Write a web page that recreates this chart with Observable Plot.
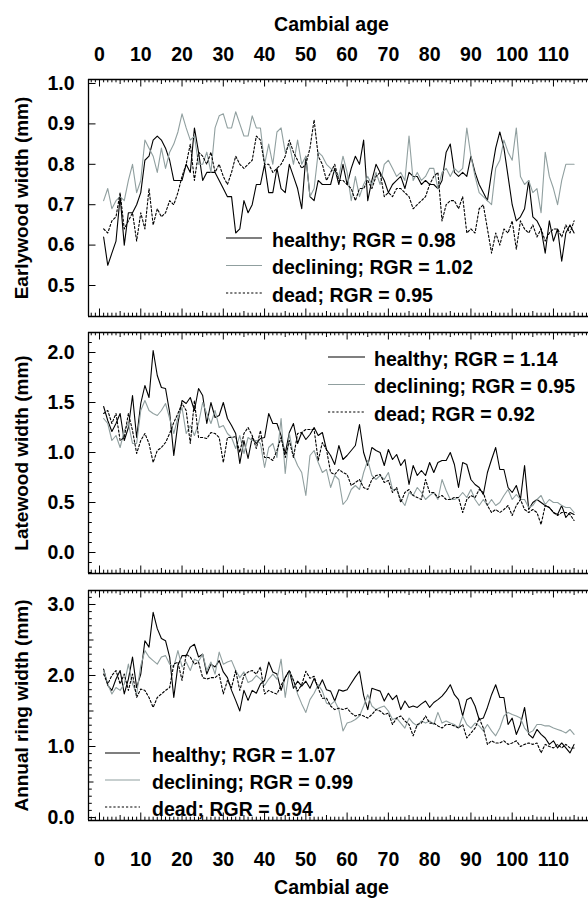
<!DOCTYPE html>
<html><head><meta charset="utf-8">
<script src="https://cdn.jsdelivr.net/npm/d3@7"></script>
<script src="https://cdn.jsdelivr.net/npm/@observablehq/plot@0.6"></script>
<style>
body{margin:0;background:#fff;}
#chart{width:588px;height:898px;overflow:hidden;background:#fff;}
#chart svg{display:block;}
</style></head><body><div id="chart"></div>
<script>
// ---------- data ----------
const ages = d3.range(1, 116); // cambial age 1..115
const xTickLabels = [0, 10, 20, 30, 40, 50, 60, 70, 80, 90, 100, 110];
const groups = ["healthy", "declining", "dead"];

const ewHealthy = [0.62,0.55,0.58,0.61,0.72,0.60,0.68,0.68,0.70,0.73,
 0.81,0.82,0.86,0.87,0.86,0.84,0.81,0.76,0.76,0.76,
 0.80,0.78,0.89,0.83,0.76,0.78,0.78,0.78,0.76,0.74,
 0.72,0.72,0.63,0.64,0.71,0.68,0.70,0.75,0.75,0.80,
 0.73,0.73,0.79,0.74,0.73,0.80,0.77,0.74,0.69,0.82,
 0.72,0.71,0.76,0.75,0.75,0.75,0.79,0.75,0.80,0.75,
 0.79,0.82,0.80,0.86,0.71,0.76,0.80,0.78,0.76,0.73,
 0.75,0.76,0.77,0.74,0.78,0.77,0.77,0.75,0.76,0.75,
 0.75,0.74,0.76,0.83,0.85,0.78,0.77,0.78,0.77,0.82,
 0.78,0.75,0.73,0.71,0.78,0.84,0.88,0.84,0.77,0.70,
 0.66,0.67,0.69,0.76,0.67,0.66,0.64,0.58,0.66,0.61,
 0.64,0.56,0.63,0.65,0.63];
const ewDeclining = [0.71,0.74,0.69,0.71,0.72,0.71,0.76,0.80,0.73,0.76,
 0.86,0.84,0.82,0.78,0.84,0.79,0.83,0.85,0.88,0.925,
 0.89,0.86,0.87,0.80,0.80,0.83,0.78,0.89,0.92,0.925,
 0.89,0.89,0.93,0.90,0.87,0.87,0.92,0.89,0.89,0.80,
 0.85,0.80,0.88,0.89,0.83,0.85,0.80,0.86,0.80,0.82,
 0.72,0.74,0.83,0.82,0.80,0.79,0.78,0.77,0.82,0.78,
 0.71,0.77,0.72,0.75,0.77,0.75,0.78,0.75,0.80,0.81,
 0.79,0.77,0.78,0.76,0.87,0.76,0.78,0.76,0.77,0.79,
 0.79,0.74,0.78,0.79,0.77,0.79,0.78,0.79,0.89,0.82,
 0.77,0.73,0.72,0.71,0.70,0.79,0.81,0.86,0.83,0.81,
 0.89,0.77,0.75,0.76,0.73,0.74,0.68,0.83,0.77,0.74,
 0.70,0.76,0.80,0.80,0.80];
const ewDead = [0.64,0.63,0.66,0.67,0.73,0.64,0.66,0.68,0.61,0.68,
 0.64,0.74,0.65,0.69,0.67,0.68,0.71,0.70,0.73,0.77,
 0.80,0.85,0.76,0.83,0.82,0.80,0.83,0.78,0.80,0.77,
 0.75,0.78,0.82,0.80,0.79,0.80,0.81,0.87,0.86,0.80,
 0.80,0.78,0.79,0.80,0.82,0.86,0.83,0.81,0.79,0.80,
 0.84,0.91,0.82,0.80,0.76,0.78,0.80,0.76,0.76,0.75,
 0.74,0.71,0.74,0.74,0.76,0.74,0.77,0.78,0.72,0.73,
 0.72,0.74,0.74,0.73,0.72,0.69,0.70,0.71,0.72,0.75,
 0.77,0.78,0.66,0.70,0.71,0.71,0.69,0.72,0.63,0.64,
 0.63,0.69,0.70,0.64,0.58,0.63,0.60,0.64,0.63,0.66,
 0.59,0.66,0.64,0.63,0.65,0.62,0.64,0.61,0.63,0.64,
 0.64,0.62,0.65,0.63,0.66];

const lwHealthy = [1.46,1.32,1.21,1.29,1.39,1.12,1.25,1.57,1.15,1.49,
 1.67,1.55,2.02,1.77,1.65,1.64,1.40,0.97,1.29,1.52,
 1.49,1.55,1.42,1.64,1.57,1.29,1.50,1.35,1.37,1.50,
 1.34,1.27,1.19,0.89,1.12,0.94,1.15,1.09,1.14,1.15,
 1.39,1.29,1.29,1.17,0.99,1.20,1.29,1.09,1.20,1.13,
 1.18,1.25,1.17,1.20,1.03,0.97,0.88,1.07,0.93,0.97,
 1.02,1.07,1.28,1.00,0.87,1.05,1.02,1.00,0.87,1.03,
 0.93,0.98,0.87,0.93,0.68,0.87,0.77,0.82,0.77,0.90,
 0.80,0.90,0.92,0.92,1.00,0.88,0.65,0.90,0.88,0.73,
 0.68,0.65,0.58,0.80,0.93,1.05,0.83,0.83,0.65,0.60,
 0.67,0.53,0.87,0.43,0.50,0.53,0.50,0.47,0.45,0.40,
 0.38,0.47,0.35,0.40,0.38];
const lwDeclining = [1.34,1.29,1.12,1.17,1.05,1.22,1.29,1.09,1.09,1.42,
 1.52,1.42,1.39,1.37,1.42,1.49,1.34,1.19,1.35,1.45,
 1.19,1.27,1.17,1.29,1.50,1.39,1.29,1.42,1.25,1.27,
 1.19,1.15,1.04,1.17,0.99,1.15,1.12,1.12,1.09,0.85,
 1.05,1.09,0.95,1.34,0.79,1.19,0.97,0.87,0.80,0.57,
 0.97,1.02,0.90,0.80,0.83,0.65,0.77,0.73,0.48,0.53,
 0.63,0.67,0.63,0.80,0.92,0.77,0.73,0.77,0.73,0.80,
 0.63,0.63,0.53,0.47,0.60,0.57,0.65,0.60,0.53,0.57,
 0.60,0.53,0.73,0.62,0.53,0.53,0.55,0.60,0.55,0.63,
 0.53,0.47,0.53,0.47,0.53,0.47,0.50,0.57,0.63,0.53,
 0.58,0.53,0.53,0.45,0.47,0.53,0.57,0.48,0.53,0.50,
 0.50,0.47,0.45,0.45,0.40];
const lwDead = [1.39,1.42,1.29,1.39,1.12,1.15,1.39,1.22,0.99,1.12,
 1.19,1.09,0.90,1.02,1.05,1.10,1.19,1.30,1.39,1.49,
 1.42,1.09,1.52,1.15,1.15,1.14,1.20,1.19,1.15,0.90,
 1.15,1.15,1.16,1.00,1.19,1.25,1.17,1.04,1.22,0.95,
 0.95,0.92,1.02,1.15,0.95,1.12,0.95,1.19,1.20,1.23,
 1.23,1.23,0.92,1.10,1.03,0.80,0.78,0.83,0.80,0.78,
 0.67,0.70,0.73,0.65,0.63,0.73,0.77,0.78,0.70,0.72,
 0.60,0.65,0.50,0.60,0.63,0.57,0.55,0.53,0.73,0.60,
 0.60,0.55,0.57,0.53,0.53,0.55,0.55,0.40,0.53,0.57,
 0.55,0.63,0.60,0.47,0.40,0.43,0.40,0.43,0.47,0.37,
 0.47,0.53,0.43,0.40,0.43,0.40,0.28,0.47,0.45,0.40,
 0.37,0.40,0.40,0.38,0.32];

const rwHealthy = [2.09,1.86,1.79,1.95,2.07,1.74,1.95,2.26,1.83,2.02,
 2.49,2.40,2.89,2.66,2.52,2.49,2.26,1.69,2.14,2.28,
 2.28,2.40,2.44,2.26,2.30,2.02,2.16,2.12,2.21,2.05,
 1.97,1.79,1.65,1.50,1.79,1.65,1.79,1.75,1.88,1.93,
 2.19,2.05,2.02,1.79,1.97,2.07,1.82,1.92,1.85,1.92,
 1.82,1.96,1.82,1.94,1.80,1.78,1.64,1.80,1.78,1.80,
 1.89,1.98,2.06,1.72,1.52,1.82,1.80,1.78,1.64,1.75,
 1.66,1.72,1.52,1.64,1.55,1.57,1.55,1.60,1.64,1.55,
 1.62,1.66,1.71,1.78,1.87,1.73,1.66,1.43,1.66,1.69,
 1.57,1.38,1.40,1.55,1.73,1.87,1.69,1.69,1.31,1.40,
 1.17,1.31,1.55,1.17,1.12,1.24,1.17,1.12,1.03,1.08,
 0.98,1.05,0.98,0.91,1.03];
const rwDeclining = [2.07,1.88,1.74,1.83,1.79,1.88,2.16,1.88,1.74,2.14,
 2.35,2.26,2.21,2.16,2.26,2.28,2.16,2.12,2.35,2.12,
 2.19,2.07,2.23,2.20,2.30,2.07,2.19,2.02,2.33,2.16,
 2.19,2.21,2.07,1.97,2.05,1.90,1.93,2.00,1.95,1.86,
 1.95,2.02,1.95,2.23,1.69,2.07,1.93,1.74,1.60,1.48,
 1.66,1.75,1.87,1.78,1.61,1.59,1.64,1.52,1.22,1.33,
 1.35,1.38,1.43,1.57,1.73,1.57,1.52,1.55,1.57,1.50,
 1.38,1.40,1.33,1.26,1.40,1.33,1.29,1.36,1.33,1.36,
 1.31,1.48,1.33,1.36,1.33,1.31,1.26,1.43,1.31,1.26,
 1.33,1.29,1.22,1.31,1.22,1.15,1.26,1.43,1.48,1.45,
 1.43,1.40,1.26,1.19,1.22,1.31,1.31,1.29,1.29,1.26,
 1.24,1.22,1.19,1.24,1.17];
const rwDead = [2.02,1.88,2.00,2.07,1.88,2.02,1.79,2.02,1.69,1.81,
 1.79,1.69,1.55,1.69,1.74,1.79,1.83,2.16,2.19,1.93,
 2.30,2.26,2.16,2.19,1.97,1.95,1.97,1.97,2.02,1.74,
 1.93,1.83,2.07,1.79,2.00,2.05,2.07,2.02,2.12,1.74,
 1.79,1.76,1.74,1.86,1.97,2.07,1.93,1.78,1.87,2.06,
 1.96,1.99,1.82,1.68,1.68,1.57,1.52,1.54,1.52,1.54,
 1.47,1.43,1.45,1.43,1.40,1.45,1.52,1.50,1.45,1.47,
 1.31,1.40,1.43,1.36,1.31,1.15,1.31,1.33,1.43,1.33,
 1.33,1.29,1.26,1.31,1.31,1.29,1.26,1.31,1.12,1.19,
 1.26,1.40,1.26,1.03,1.08,1.05,1.05,1.08,1.03,1.05,
 1.08,1.00,1.03,1.05,1.03,1.05,0.91,1.03,1.00,0.98,
 1.03,0.98,1.03,0.98,0.98];

const ewRGR = [0.98, 1.02, 0.95];
const lwRGR = [1.14, 0.95, 0.92];
const rwRGR = [1.07, 0.99, 0.94];

// ---------- layout / style ----------
const W = 588, ML = 88, MR = 0;
const xDomain = [-2.665, 118.49];
const FONT = "'Liberation Sans', Arial, Helvetica, sans-serif";
const GRAY = "#909f9f";
const styles = {
  healthy: {stroke: "#000", dash: null},
  declining: {stroke: GRAY, dash: null},
  dead: {stroke: "#000", dash: "2.2,2"}
};

function panel(o) {
  const h = o.height - o.mt - o.mb;
  const w = W - ML - MR;
  const xs = d3.range(-2, 119);
  const xTickSets = [
    [xs.filter(d => d % 5 !== 0), 3.3],
    [xs.filter(d => Math.abs(d % 10) === 5), 5],
    [xs.filter(d => d % 10 === 0), 7.5]
  ];
  const marks = [];
  // frame (left, top, bottom)
  marks.push(Plot.ruleX([xDomain[0]], {stroke: "#000", strokeWidth: 1.3}));
  marks.push(Plot.ruleY(o.yDomain, {stroke: "#000", strokeWidth: 1.3}));
  // inward x ticks at bottom and top of frame
  for (const [vals, L] of xTickSets) {
    marks.push(Plot.tickX(vals, {x: d => d, insetTop: h - L, stroke: "#000", strokeWidth: 1}));
    marks.push(Plot.tickX(vals, {x: d => d, insetBottom: h - L, stroke: "#000", strokeWidth: 1}));
  }
  // inward y ticks at left
  for (const [vals, L] of o.yTickSets) {
    marks.push(Plot.tickY(vals, {y: d => d, insetRight: w - L, stroke: "#000", strokeWidth: 1}));
  }
  // data lines
  o.series.forEach((vals, k) => {
    const g = groups[k];
    const rows = vals.map((v, i) => ({age: ages[i], v}));
    marks.push(Plot.line(rows, {x: "age", y: "v", stroke: styles[g].stroke, strokeWidth: 1.1,
      strokeDasharray: styles[g].dash, curve: "linear"}));
  });
  // y tick labels
  marks.push(Plot.axisY({anchor: "left", ticks: o.yLabels, tickSize: 0, tickPadding: 14,
    tickFormat: d3.format(".1f"), label: null}));
  // y title
  marks.push(Plot.text([o.yTitle], {text: d => d, frameAnchor: "left", rotate: -90, dx: -60.5,
    lineAnchor: "bottom", textAnchor: "middle", fontSize: 19}));
  if (o.topAxis) {
    marks.push(Plot.axisX({anchor: "top", ticks: xTickLabels, tickSize: 0, tickPadding: 19, label: null}));
    marks.push(Plot.text(["Cambial age"], {text: d => d, frameAnchor: "top", dy: -49, dx: -7, lineAnchor: "bottom"}));
  }
  if (o.bottomAxis) {
    marks.push(Plot.axisX({anchor: "bottom", ticks: xTickLabels, tickSize: 0, tickPadding: 32, label: null}));
    marks.push(Plot.text(["Cambial age"], {text: d => d, frameAnchor: "bottom", dy: 60, dx: -7, lineAnchor: "top"}));
  }
  const svg = Plot.plot({
    width: W, height: o.height,
    marginLeft: ML, marginRight: MR, marginTop: o.mt, marginBottom: o.mb,
    x: {domain: xDomain, axis: (o.topAxis || o.bottomAxis) ? undefined : null},
    y: {domain: o.yDomain},
    style: {fontFamily: FONT, fontSize: "19.5px", fontWeight: "bold", color: "#000", background: "#fff", overflow: "visible"},
    marks
  });
  // legend inside the panel
  const lg = d3.select(svg).append("g").attr("font-family", FONT).attr("font-size", "19.5px")
    .attr("font-weight", "bold").attr("text-anchor", "start");
  groups.forEach((g, i) => {
    const y = o.legend.y0 + i * o.legend.dy;
    lg.append("line").attr("x1", o.legend.x0).attr("x2", o.legend.x1).attr("y1", y).attr("y2", y)
      .attr("stroke", styles[g].stroke).attr("stroke-width", 1.2)
      .attr("stroke-dasharray", styles[g].dash);
    lg.append("text").attr("x", o.legend.xt).attr("y", y + 8.5).attr("fill", "#000")
      .attr("text-anchor", "start")
      .text(`${g}; RGR = ${o.rgr[i].toFixed(2)}`);
  });
  return svg;
}

const chart = document.getElementById("chart");
chart.append(panel({
  height: 324, mt: 79, mb: 8, yDomain: [0.4233, 1.0099],
  yLabels: [0.5, 0.6, 0.7, 0.8, 0.9, 1.0],
  yTickSets: [[[0.5, 0.6, 0.7, 0.8, 0.9, 1.0], 7.5]],
  series: [ewHealthy, ewDeclining, ewDead], rgr: ewRGR,
  yTitle: "Earlywood width (mm)", topAxis: true,
  legend: {x0: 226, x1: 262, xt: 272, y0: 238, dy: 27.5}
}));
chart.append(panel({
  height: 257, mt: 8, mb: 8, yDomain: [-0.21, 2.20],
  yLabels: [0, 0.5, 1.0, 1.5, 2.0],
  yTickSets: [[d3.range(-2, 23).filter(d => d % 5 !== 0).map(d => d / 10), 3.8], [[0, 0.5, 1.0, 1.5, 2.0], 7.5]],
  series: [lwHealthy, lwDeclining, lwDead], rgr: lwRGR,
  yTitle: "Latewood width (mm)",
  legend: {x0: 328, x1: 365, xt: 374, y0: 33, dy: 27.5}
}));
chart.append(panel({
  height: 317, mt: 9, mb: 78, yDomain: [-0.042, 3.197],
  yLabels: [0, 1.0, 2.0, 3.0],
  yTickSets: [[d3.range(0, 32).filter(d => d % 5 !== 0).map(d => d / 10), 3.8], [[0.5, 1.5, 2.5], 5.5], [[0, 1, 2, 3], 7.5]],
  series: [rwHealthy, rwDeclining, rwDead], rgr: rwRGR,
  yTitle: "Annual ring width (mm)", bottomAxis: true,
  legend: {x0: 105, x1: 140, xt: 152, y0: 172, dy: 27}
}));
</script></body></html>
